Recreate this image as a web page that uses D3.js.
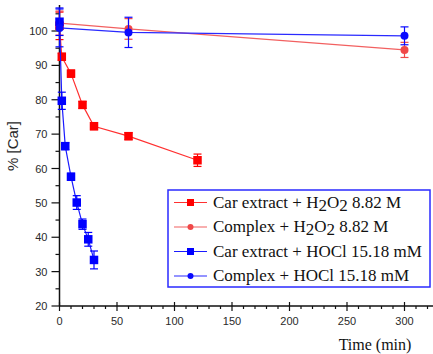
<!DOCTYPE html>
<html>
<head>
<meta charset="utf-8">
<script src="https://cdn.jsdelivr.net/npm/d3@7"></script>
<style>
  body { margin: 0; background: #fff; }
  svg { display: block; }
  .sans { font-family: "Liberation Sans", Arial, sans-serif; }
  .serif { font-family: "Liberation Serif", Tinos, "Times New Roman", Times, serif; }
</style>
</head>
<body>
<div id="chart"></div>
<script>
// data
var carH2O2_t = [0, 2, 10, 20, 30, 60, 120];
var carH2O2_v = [101.5, 92.5, 87.6, 78.5, 72.3, 69.4, 62.4];
var carH2O2_e = [4, 1, 1, 1, 1, 1, 1.8];

var cpxH2O2_t = [0, 60, 300];
var cpxH2O2_v = [102.3, 100.6, 94.5];
var cpxH2O2_e = [3.5, 3, 2.2];

var carHOCl_t = [0, 2, 5, 10, 15, 20, 25, 30];
var carHOCl_v = [102.7, 79.7, 66.5, 57.6, 50.1, 43.8, 39.4, 33.4];
var carHOCl_e = [4, 2.5, 1, 1, 2, 1.5, 2, 2.6];

var cpxHOCl_t = [0, 60, 300];
var cpxHOCl_v = [100.9, 99.6, 98.6];
var cpxHOCl_e = [5.5, 4.4, 2.6];

var xTicks = [0, 50, 100, 150, 200, 250, 300];
var yTicks = [20, 30, 40, 50, 60, 70, 80, 90, 100];

var series = [
  {name: ["Car extract + H", "2", "O", "2", " 8.82 M"], t: carH2O2_t, v: carH2O2_v, e: carH2O2_e, color: "#ff0000", line: "#ff3030", shape: "square"},
  {name: ["Complex + H", "2", "O", "2", "  8.82 M"], t: cpxH2O2_t, v: cpxH2O2_v, e: cpxH2O2_e, color: "#f04848", line: "#f26060", shape: "circle"},
  {name: ["Car extract + HOCl 15.18 mM"], t: carHOCl_t, v: carHOCl_v, e: carHOCl_e, color: "#0000ff", line: "#1a1aff", shape: "square"},
  {name: ["Complex + HOCl 15.18 mM"], t: cpxHOCl_t, v: cpxHOCl_v, e: cpxHOCl_e, color: "#0a0aff", line: "#2a2aff", shape: "circle"}
];

var width = 433, height = 354;

var svg = d3.select("#chart")
  .append("svg")
    .attr("width", width)
    .attr("height", height);

var x = d3.scaleLinear().domain([0, 325]).range([59.5, 433.25]);
var y = d3.scaleLinear().domain([20, 100]).range([306, 31]);

// y axis
var yAxis = svg.append("g").attr("transform", "translate(" + x(0) + ",0)");
yAxis.append("line")
  .attr("y1", y(20)).attr("y2", y(107.6))
  .attr("stroke", "#111").attr("stroke-width", 1.5);
yAxis.selectAll(".minor")
  .data(d3.range(25, 106, 10))
  .enter().append("line")
    .attr("x1", -4).attr("x2", 0)
    .attr("y1", d => y(d)).attr("y2", d => y(d))
    .attr("stroke", "#111").attr("stroke-width", 1.2);
yAxis.selectAll(".major")
  .data(yTicks)
  .enter().append("line")
    .attr("x1", -8).attr("x2", 0)
    .attr("y1", d => y(d)).attr("y2", d => y(d))
    .attr("stroke", "#111").attr("stroke-width", 1.2);
yAxis.selectAll("text")
  .data(yTicks)
  .enter().append("text")
    .attr("class", "sans")
    .attr("x", -12)
    .attr("y", d => y(d) + 4)
    .attr("text-anchor", "end")
    .style("font-size", "11px")
    .attr("fill", "#2a2a2a")
    .text(d => d);

// x axis
var xAxis = svg.append("g").attr("transform", "translate(0," + y(20) + ")");
xAxis.append("line")
  .attr("x1", x(0)).attr("x2", width)
  .attr("stroke", "#111").attr("stroke-width", 1.5);
xAxis.selectAll(".minor")
  .data(d3.range(10, 326, 10).filter(d => d % 50 != 0))
  .enter().append("line")
    .attr("x1", d => x(d)).attr("x2", d => x(d))
    .attr("y1", 0).attr("y2", 3)
    .attr("stroke", "#111").attr("stroke-width", 1.2);
xAxis.selectAll(".major")
  .data(xTicks)
  .enter().append("line")
    .attr("x1", d => x(d)).attr("x2", d => x(d))
    .attr("y1", -4).attr("y2", 5)
    .attr("stroke", "#111").attr("stroke-width", 1.2);
xAxis.selectAll("text")
  .data(xTicks)
  .enter().append("text")
    .attr("class", "sans")
    .attr("x", d => x(d))
    .attr("y", 19)
    .attr("text-anchor", "middle")
    .style("font-size", "11px")
    .attr("fill", "#2a2a2a")
    .text(d => d);

// axis titles
svg.append("text")
  .attr("class", "sans")
  .attr("transform", "translate(18,146) rotate(-90)")
  .attr("text-anchor", "middle")
  .style("font-size", "15px")
  .attr("fill", "#2a2a2a")
  .text("% [Car]");

svg.append("text")
  .attr("class", "serif")
  .attr("x", 375).attr("y", 350)
  .attr("text-anchor", "middle")
  .style("font-size", "16px")
  .attr("fill", "#111")
  .text("Time (min)");

function drawMarker(g, shape, cx, cy, color, big) {
  if (shape == "square") {
    var s = big ? 8.5 : 7;
    g.append("rect")
      .attr("x", cx - s / 2).attr("y", cy - s / 2)
      .attr("width", s).attr("height", s)
      .attr("fill", color);
  } else {
    g.append("circle")
      .attr("cx", cx).attr("cy", cy)
      .attr("r", big ? 4 : 3)
      .attr("fill", color);
  }
}

var line = d3.line().x(d => x(d[0])).y(d => y(d[1]));

series.forEach(function(s) {
  var g = svg.append("g");
  var pts = s.t.map((t, i) => [t, s.v[i], s.e[i]]);
  g.append("path")
    .attr("d", line(pts))
    .attr("fill", "none")
    .attr("stroke", s.line)
    .attr("stroke-width", 1.2);
  // error bars
  pts.forEach(function(p) {
    var px = x(p[0]);
    g.append("line")
      .attr("x1", px).attr("x2", px)
      .attr("y1", y(p[1] - p[2])).attr("y2", y(p[1] + p[2]))
      .attr("stroke", s.color).attr("stroke-width", 1.2);
    [p[1] - p[2], p[1] + p[2]].forEach(function(v) {
      g.append("line")
        .attr("x1", px - 4).attr("x2", px + 4)
        .attr("y1", y(v)).attr("y2", y(v))
        .attr("stroke", s.color).attr("stroke-width", 1.2);
    });
    drawMarker(g, s.shape, px, y(p[1]), s.color, true);
  });
});

// legend
var lg = svg.append("g");
lg.append("rect")
  .attr("x", 168).attr("y", 190)
  .attr("width", 262).attr("height", 97)
  .attr("fill", "#fff")
  .attr("stroke", "#2a2aff").attr("stroke-width", 1.5);

var rowY = [202.5, 227, 251.5, 276];
series.forEach(function(s, i) {
  var ry = rowY[i];
  lg.append("line")
    .attr("x1", 174).attr("x2", 207)
    .attr("y1", ry).attr("y2", ry)
    .attr("stroke", s.line).attr("stroke-width", 1.2);
  drawMarker(lg, s.shape, 190.5, ry, s.color, false);
  var txt = lg.append("text")
    .attr("class", "serif")
    .attr("x", 213).attr("y", ry + 5)
    .style("font-size", "17px")
    .attr("fill", "#111");
  s.name.forEach(function(part, k) {
    var ts = txt.append("tspan").text(part);
    if (part == "2") ts.attr("dy", 3);
    else if (k > 0 && s.name[k - 1] == "2") ts.attr("dy", -3);
  });
});
</script>
</body>
</html>
